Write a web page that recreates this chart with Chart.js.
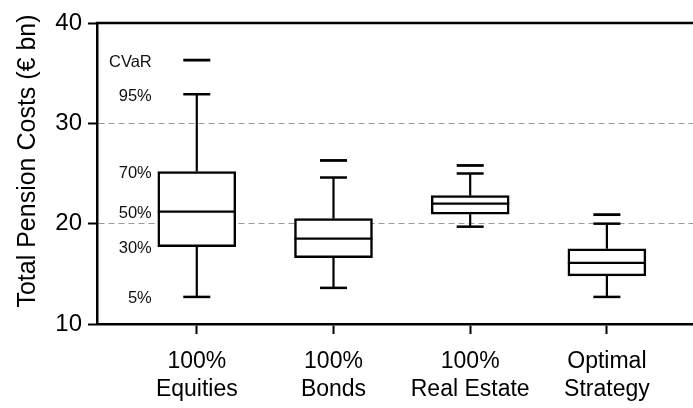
<!DOCTYPE html>
<html>
<head>
<meta charset="utf-8">
<script src="https://cdn.jsdelivr.net/npm/chart.js@4.4.1/dist/chart.umd.min.js"></script>
<style>
  html, body { margin: 0; padding: 0; background: #fff; }
  #wrap { width: 693px; height: 408px; }
</style>
</head>
<body>
<div id="wrap"><canvas id="pension-chart"></canvas></div>
<script>
// Strategies and their cost distribution (EUR bn)
const categories = [['100%', 'Equities'], ['100%', 'Bonds'], ['100%', 'Real Estate'], ['Optimal', 'Strategy']];
const p5 = [12.7, 13.6, 19.7, 12.7];
const p30 = [17.7, 16.6, 20.95, 14.8];
const p50 = [21.2, 18.5, 22.0, 16.1];
const p70 = [25.2, 20.5, 22.8, 17.5];
const p95 = [32.9, 24.6, 25.0, 20.0];
const cvar = [36.3, 26.3, 25.8, 20.9];
const pctLabels = ['CVaR', '95%', '70%', '50%', '30%', '5%'];
const yTicks = [10, 20, 30, 40];
const yTitle = 'Total Pension Costs (€ bn)';

const FONT = '"Liberation Sans", Arial, sans-serif';
const BOX_W = 78;
const CAP_W = 27;

// whiskers, medians, caps, CVaR marks, percentile labels and the axis title
const boxExtras = {
    id: 'boxExtras',
    afterDatasetsDraw(chart) {
        const ctx = chart.ctx;
        const x = chart.scales.x;
        const y = chart.scales.y;
        ctx.save();
        ctx.strokeStyle = '#000';
        ctx.lineCap = 'butt';

        const line = (x1, y1, x2, y2, w) => {
            ctx.lineWidth = w;
            ctx.beginPath();
            ctx.moveTo(x1, y1);
            ctx.lineTo(x2, y2);
            ctx.stroke();
        };

        categories.forEach((c, i) => {
            const cx = x.getPixelForValue(i + 1);
            // whiskers
            line(cx, y.getPixelForValue(p95[i]), cx, y.getPixelForValue(p70[i]), 2.2);
            line(cx, y.getPixelForValue(p30[i]), cx, y.getPixelForValue(p5[i]), 2.2);
            // caps
            line(cx - CAP_W / 2, y.getPixelForValue(p95[i]), cx + CAP_W / 2, y.getPixelForValue(p95[i]), 2.5);
            line(cx - CAP_W / 2, y.getPixelForValue(p5[i]), cx + CAP_W / 2, y.getPixelForValue(p5[i]), 2.5);
            // CVaR
            line(cx - CAP_W / 2, y.getPixelForValue(cvar[i]), cx + CAP_W / 2, y.getPixelForValue(cvar[i]), 2.8);
            // median
            line(cx - BOX_W / 2, y.getPixelForValue(p50[i]), cx + BOX_W / 2, y.getPixelForValue(p50[i]), 2.2);
        });

        // percentile labels next to the first box
        const vals = [cvar[0], p95[0], p70[0], p50[0], p30[0], p5[0]];
        const tx = x.getPixelForValue(1) - BOX_W / 2 - 6;
        ctx.fillStyle = '#111';
        ctx.font = '16.5px ' + FONT;
        ctx.textAlign = 'right';
        ctx.textBaseline = 'middle';
        pctLabels.forEach((t, k) => {
            ctx.fillText(t, tx, y.getPixelForValue(vals[k]) + 2);
        });

        // top frame line
        const area = chart.chartArea;
        ctx.lineWidth = 2.5;
        ctx.beginPath();
        ctx.moveTo(area.left - 1.25, area.top);
        ctx.lineTo(area.right, area.top);
        ctx.stroke();

        // y axis title, sits a bit above the middle of the axis
        ctx.translate(35, 161);
        ctx.rotate(-Math.PI / 2);
        ctx.fillStyle = '#000';
        ctx.font = '25px ' + FONT;
        ctx.textAlign = 'center';
        ctx.textBaseline = 'alphabetic';
        ctx.fillText(yTitle, 0, 0);
        ctx.restore();
    }
};

new Chart(document.getElementById('pension-chart'), {
    type: 'bar',
    data: {
        datasets: [{
            data: categories.map((c, i) => ({ x: i + 1, y: [p30[i], p70[i]] })),
            backgroundColor: '#fff',
            borderColor: '#000',
            borderWidth: 2.5,
            borderSkipped: false,
            barThickness: BOX_W,
        }],
    },
    options: {
        responsive: true,
        maintainAspectRatio: false,
        animation: false,
        layout: { padding: { top: 23, right: 0, left: 0, bottom: 0 } },
        plugins: { legend: { display: false }, tooltip: { enabled: false } },
        scales: {
            x: {
                type: 'linear',
                min: 0.27,
                max: 4.63,
                offset: false,
                afterBuildTicks: (s) => { s.ticks = categories.map((c, i) => ({ value: i + 1 })); },
                afterFit: (s) => { s.height = 84; },
                ticks: {
                    autoSkip: false,
                    maxRotation: 0,
                    padding: 14,
                    color: '#000',
                    font: { family: FONT, size: 23, lineHeight: 1.22 },
                    callback: (v) => categories[v - 1],
                },
                grid: {
                    offset: false,
                    drawOnChartArea: false,
                    drawTicks: true,
                    tickLength: 10,
                    tickColor: '#000',
                    tickWidth: 2,
                },
                border: { display: true, color: '#000', width: 2.5 },
            },
            y: {
                min: 10,
                max: 40,
                afterBuildTicks: (s) => { s.ticks = yTicks.map((v) => ({ value: v })); },
                afterFit: (s) => { s.width = 97; },
                ticks: {
                    padding: 6,
                    color: '#000',
                    font: { family: FONT, size: 24 },
                },
                grid: {
                    color: (c) => (c.tick && (c.tick.value === 20 || c.tick.value === 30)) ? '#999' : 'rgba(0,0,0,0)',
                    lineWidth: 1,
                    drawTicks: true,
                    tickLength: 9,
                    tickColor: '#000',
                    tickWidth: 2,
                    tickBorderDash: [],
                },
                border: { display: true, color: '#000', width: 2.5, dash: [6, 4] },
            },
        },
    },
    plugins: [boxExtras],
});
</script>
</body>
</html>
